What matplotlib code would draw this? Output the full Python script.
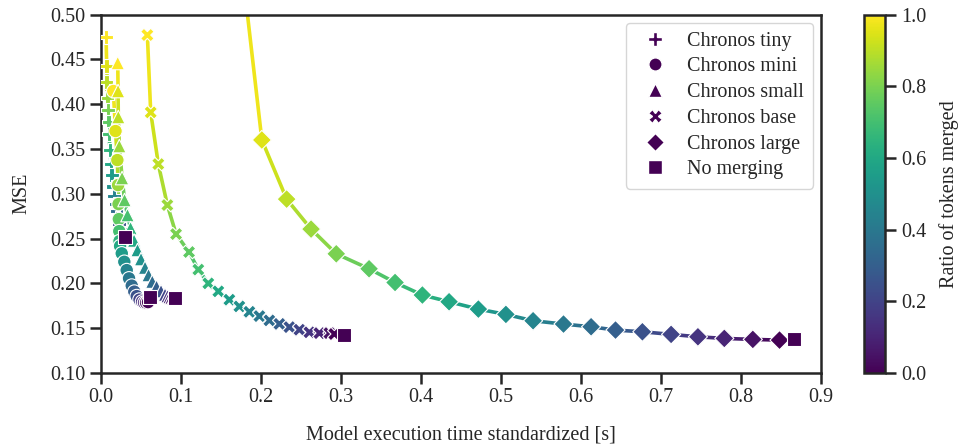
import numpy as np
import matplotlib
matplotlib.use('Agg')
import matplotlib.pyplot as plt
import seaborn as sns
from matplotlib.collections import LineCollection
from matplotlib.lines import Line2D

# ratio of tokens merged, shared by every model curve
ratios = [1.0, 0.95, 0.9, 0.85, 0.8, 0.75, 0.7, 0.65, 0.6, 0.55, 0.5,
          0.45, 0.4, 0.35, 0.3, 0.25, 0.2, 0.15, 0.1, 0.05, 0.0]

tiny_time = [0.0063, 0.0071, 0.0071, 0.0079, 0.0088, 0.0094, 0.0100, 0.0113, 0.0125, 0.0134, 0.0150,
             0.0163, 0.0178, 0.0191, 0.0206, 0.0223, 0.0238, 0.0256, 0.0275, 0.0291, 0.0306]
tiny_mse = [0.4749, 0.4425, 0.4247, 0.4068, 0.3934, 0.3800, 0.3666, 0.3488, 0.3331, 0.3209, 0.3080,
            0.2974, 0.2885, 0.2807, 0.2729, 0.2662, 0.2606, 0.2567, 0.2539, 0.2522, 0.2511]

mini_time = [0.0154, 0.0181, 0.0204, 0.0213, 0.0219, 0.0223, 0.0228, 0.0231, 0.0238, 0.0259, 0.0291,
             0.0321, 0.0350, 0.0384, 0.0416, 0.0446, 0.0481, 0.0513, 0.0538, 0.0563, 0.0588]
mini_mse = [0.4146, 0.3700, 0.3376, 0.3097, 0.2885, 0.2717, 0.2583, 0.2472, 0.2416, 0.2335, 0.2241,
            0.2148, 0.2056, 0.1975, 0.1908, 0.1858, 0.1819, 0.1797, 0.1786, 0.1786, 0.1791]

small_time = [0.0209, 0.0213, 0.0216, 0.0229, 0.0263, 0.0294, 0.0331, 0.0369, 0.0413, 0.0456, 0.0500,
              0.0550, 0.0594, 0.0641, 0.0694, 0.0750, 0.0800, 0.0831, 0.0856, 0.0881, 0.0906]
small_mse = [0.4459, 0.4146, 0.3856, 0.3532, 0.3175, 0.2930, 0.2762, 0.2617, 0.2478, 0.2372, 0.2271,
             0.2176, 0.2093, 0.2020, 0.1964, 0.1914, 0.1875, 0.1858, 0.1847, 0.1842, 0.1836]

base_time = [0.0579, 0.0621, 0.0716, 0.0829, 0.0938, 0.1100, 0.1216, 0.1341, 0.1466, 0.1604, 0.1729,
             0.1854, 0.1979, 0.2104, 0.2229, 0.2354, 0.2479, 0.2604, 0.2729, 0.2854, 0.2916]
base_mse = [0.4771, 0.3908, 0.3331, 0.2874, 0.2550, 0.2350, 0.2154, 0.2000, 0.1911, 0.1818, 0.1743,
            0.1683, 0.1635, 0.1587, 0.1548, 0.1512, 0.1483, 0.1454, 0.1445, 0.1445, 0.1435]

large_time = [0.1753, 0.2010, 0.2320, 0.2625, 0.2940, 0.3350, 0.3675, 0.4016, 0.4350, 0.4716, 0.5060,
              0.5400, 0.5780, 0.6125, 0.6430, 0.6766, 0.7125, 0.7460, 0.7790, 0.8146, 0.8480]
large_mse = [0.5600, 0.3600, 0.2940, 0.2606, 0.2330, 0.2163, 0.2010, 0.1870, 0.1795, 0.1713, 0.1654,
             0.1583, 0.1546, 0.1516, 0.1479, 0.1460, 0.1431, 0.1404, 0.1386, 0.1375, 0.1367]

# baseline without merging, one per model (tiny, mini, small, base, large)
nomerge_time = [0.0300, 0.0613, 0.0925, 0.3041, 0.8666]
nomerge_mse = [0.2520, 0.1850, 0.1839, 0.1426, 0.1378]

models = ['Chronos tiny', 'Chronos mini', 'Chronos small', 'Chronos base', 'Chronos large']
markers = ['P', 'o', '^', 'X', 'D']
series = [(tiny_time, tiny_mse), (mini_time, mini_mse), (small_time, small_mse),
          (base_time, base_mse), (large_time, large_mse)]

sns.set_theme(style='ticks')
plt.rcParams['font.family'] = ['Liberation Serif', 'DejaVu Serif']
FS = 14.5

cmap = plt.get_cmap('viridis')
norm = plt.Normalize(0, 1)

fig = plt.figure(figsize=(9.64, 4.48), dpi=100)
ax = fig.add_axes([0.1048, 0.1674, 0.747, 0.8002])
cax = fig.add_axes([0.8963, 0.1674, 0.0218, 0.8002])

r = np.array(ratios)
for (t, m), mk in zip(series, markers):
    pts = np.column_stack([t, m])
    segs = np.stack([pts[:-1], pts[1:]], axis=1)
    seg_col = cmap(norm((r[:-1] + r[1:]) / 2))
    lc = LineCollection(segs, colors=seg_col, linewidths=2.6, zorder=2)
    ax.add_collection(lc)
    ax.scatter(t, m, c=r, cmap=cmap, norm=norm, marker=mk, s=95,
               edgecolors='white', linewidths=0.8, zorder=3)

ax.scatter(nomerge_time, nomerge_mse, color=cmap(0.0), marker='s', s=95,
           edgecolors='white', linewidths=0.8, zorder=4)

ax.set_xlim(0, 0.9)
ax.set_ylim(0.1, 0.5)
ax.set_xticks(np.arange(0, 0.91, 0.1))
ax.set_yticks(np.arange(0.1, 0.501, 0.05))
ax.xaxis.set_major_formatter(plt.FormatStrFormatter('%.1f'))
ax.yaxis.set_major_formatter(plt.FormatStrFormatter('%.2f'))
ax.set_xlabel('Model execution time standardized [s]', fontsize=FS, labelpad=13)
ax.set_ylabel('MSE', fontsize=FS, labelpad=14)
for s in ax.spines.values():
    s.set_linewidth(1.8)
    s.set_color('#262626')
ax.tick_params(width=1.8, length=8, pad=3, color='#262626', labelsize=FS)

handles = [Line2D([], [], linestyle='none', marker=mk, color=cmap(0.0), markersize=9.5, markeredgecolor='white')
           for mk in markers]
handles.append(Line2D([], [], linestyle='none', marker='s', color=cmap(0.0), markersize=9.5, markeredgecolor='white'))
ax.legend(handles, models + ['No merging'], loc='upper right', fontsize=FS,
          handletextpad=0.6, labelspacing=0.33, borderpad=0.45, borderaxespad=0.4)

sm = plt.cm.ScalarMappable(norm=norm, cmap=cmap)
cb = fig.colorbar(sm, cax=cax)
cb.set_ticks(np.arange(0, 1.01, 0.2))
cb.ax.yaxis.set_major_formatter(plt.FormatStrFormatter('%.1f'))
cb.set_label('Ratio of tokens merged', fontsize=FS, labelpad=9)
cb.outline.set_linewidth(1.8)
cb.outline.set_edgecolor('#262626')
cb.ax.tick_params(width=1.8, length=8, pad=4, color='#262626', labelsize=FS)

fig.savefig('out.png', dpi=100)
